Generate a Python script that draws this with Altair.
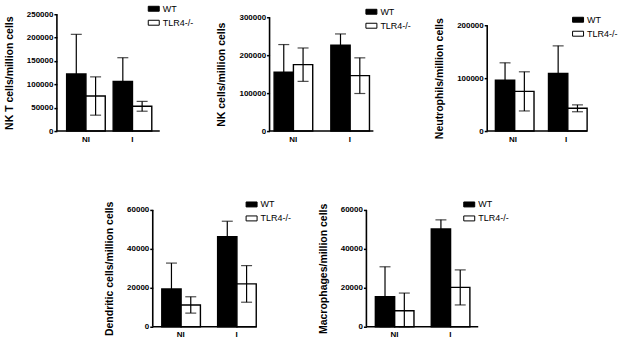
import altair as alt
import pandas as pd

groups = ["NI", "I"]
strains = ["WT", "TLR4-/-"]

# Each list is ordered NI-WT, NI-TLR4-/-, I-WT, I-TLR4-/-
nkt_mean = [122000, 75000, 106000, 53000]
nkt_sd = [85000, 41000, 51000, 10500]

nk_mean = [155000, 175000, 226000, 146000]
nk_sd = [73000, 44000, 30000, 47000]

neu_mean = [96000, 75000, 109000, 43000]
neu_sd = [33000, 37000, 52000, 6500]

dc_mean = [19400, 11200, 46200, 22000]
dc_sd = [13300, 4200, 8000, 9400]

mac_mean = [15400, 8200, 50200, 20200]
mac_sd = [15400, 9100, 4700, 9000]

FONT = "Liberation Sans"
H = 117
RECT = "M-1,-0.45H1V0.45H-1Z"


def panel(title, means, sds, ticks, width, range_top, pad_inner, pad_outer, align,
          legend_x, legend_y, legend_pad=0):
    df = pd.DataFrame({
        "group": [g for g in groups for _ in strains],
        "strain": strains * 2,
        "mean": means,
        "sd": sds,
    })
    df["hi"] = df["mean"] + df["sd"]
    df["lo"] = (df["mean"] - df["sd"]).clip(lower=0)
    frame = pd.DataFrame({"lo": [0], "hi": [ticks[-1]]})

    x = alt.X(
        "group:N", sort=groups, title=None,
        scale=alt.Scale(paddingInner=pad_inner, paddingOuter=pad_outer, align=align),
        axis=alt.Axis(labelAngle=0, ticks=False, domain=False,
                      labelFont=FONT, labelFontWeight="bold", labelFontSize=8,
                      labelColor="black", labelPadding=4),
    )
    xo = alt.XOffset("strain:N", sort=strains,
                     scale=alt.Scale(paddingInner=0, paddingOuter=0))
    yscale = alt.Scale(domain=[0, ticks[-1]], range=[H, range_top], nice=False)
    yaxis = alt.Axis(values=ticks, format="d", grid=False, domain=False,
                     ticks=True, tickColor="black", tickWidth=1.5,
                     tickSize=3, tickOpacity=1,
                     labelFont=FONT, labelFontWeight="bold", labelFontSize=8,
                     labelColor="black", labelPadding=1,
                     titleFont=FONT, titleFontWeight="bold", titleFontSize=10.5,
                     titleColor="black", titlePadding=12)

    def y(field):
        return alt.Y(f"{field}:Q", title=title, scale=yscale, axis=yaxis)

    base = alt.Chart(df)
    bars = base.mark_bar(stroke="black", strokeWidth=1.4).encode(
        x=x, xOffset=xo, y=y("mean"),
        fill=alt.Fill(
            "strain:N", sort=strains,
            scale=alt.Scale(domain=strains, range=["black", "white"]),
            legend=alt.Legend(title=None, orient="none",
                              legendX=legend_x - legend_pad,
                              legendY=legend_y - legend_pad,
                              symbolType=RECT, symbolSize=121,
                              symbolStrokeColor="black", symbolStrokeWidth=1,
                              labelFont=FONT, labelFontSize=9, labelColor="black",
                              rowPadding=3, padding=legend_pad, labelOffset=3),
        ),
    )
    err = base.mark_rule(color="black", strokeWidth=1.2).encode(
        x=x, xOffset=xo, y=y("lo"), y2="hi:Q")
    cap_hi = base.mark_tick(color="black", size=11, thickness=1.2).encode(
        x=x, xOffset=xo, y=y("hi"))
    cap_lo = base.mark_tick(color="black", size=11, thickness=1.2).encode(
        x=x, xOffset=xo, y=y("lo"))

    # axis lines: vertical from 0 to the top tick, horizontal along zero
    y_line = alt.Chart(frame).mark_rule(color="black", strokeWidth=1.6).encode(
        x=alt.value(0), y=y("lo"), y2="hi:Q")
    x_line = alt.Chart(frame).mark_rule(color="black", strokeWidth=1.6).encode(
        x=alt.value(0), x2=alt.value(width), y=y("lo"))

    return alt.layer(bars, err, cap_hi, cap_lo, y_line, x_line).properties(
        width=width, height=H)


p1 = panel("NK T cells/million cells", nkt_mean, nkt_sd,
           [0, 50000, 100000, 150000, 200000, 250000],
           103, 0, 0.17, 0.19, 0.55, 91, -11.5)
p2 = panel("NK cells/million cells", nk_mean, nk_sd,
           [0, 100000, 200000, 300000],
           104, 3, 0.33, 0.08, 0.5, 96, -8.5)
p3 = panel("Neutrophils/million cells", neu_mean, neu_sd,
           [0, 100000, 200000],
           100, 11, 0.34, 0.11, 0.7, 85, -0.5)
p4 = panel("Dendritic cells/million cells", dc_mean, dc_sd,
           [0, 20000, 40000, 60000],
           104, 0, 0.32, 0.09, 0.9, 93, -11.5)
p5 = panel("Macrophages/million cells", mac_mean, mac_sd,
           [0, 20000, 40000, 60000],
           112, 0, 0.32, 0.16, 0.5, 97, -11.5, legend_pad=13)


def indep(c):
    return c.resolve_scale(x="independent", y="independent", fill="independent") \
            .resolve_axis(x="independent", y="independent") \
            .resolve_legend(fill="independent")


top = indep(alt.hconcat(p1, p2, p3, spacing=23))
bottom = indep(alt.hconcat(p4, p5, spacing=26))

chart = indep(alt.vconcat(top, bottom, spacing=42, center=True)).properties(
    padding={"left": 4, "top": 2, "right": 2, "bottom": 2},
    background="white",
).configure_view(stroke=None)

chart.save("out.html", embed_options={"renderer": "svg", "actions": False})
